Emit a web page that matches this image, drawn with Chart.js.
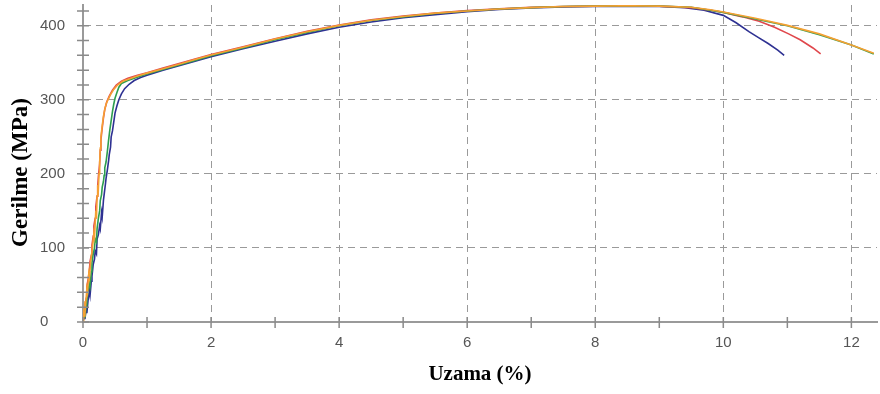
<!DOCTYPE html>
<html>
<head>
<meta charset="utf-8">
<script src="https://cdn.jsdelivr.net/npm/chart.js@4"></script>
<style>
  html, body { margin: 0; padding: 0; background: #fff; }
  #wrap { width: 880px; height: 394px; }
</style>
</head>
<body>
<div id="wrap"><canvas id="chart" width="880" height="394"></canvas></div>
<script>
// Strain (%) and stress (MPa), one pair of arrays per specimen
const blueStrain = [0, 0.02, 0.03, 0.05, 0.06, 0.08, 0.1, 0.11, 0.13, 0.14, 0.16, 0.18, 0.19, 0.21, 0.22, 0.24, 0.26, 0.27, 0.29, 0.3, 0.32, 0.33, 0.35, 0.36, 0.38, 0.4, 0.41, 0.43, 0.44, 0.46, 0.48, 0.5, 0.53, 0.56, 0.6, 0.65, 0.72, 0.8, 0.9, 1.0, 1.25, 1.5, 1.75, 2.0, 2.5, 3.0, 3.5, 4.0, 4.5, 5.0, 5.5, 6.0, 6.5, 7.0, 7.5, 8.0, 8.5, 9.0, 9.4, 9.7, 10.0, 10.2, 10.4, 10.55, 10.7, 10.85, 10.95];
const blueStress = [0, 10, 4, 18, 12, 30, 42, 36, 55, 62, 78, 85, 96, 92, 112, 118, 130, 126, 148, 142, 165, 172, 186, 194, 205, 218, 226, 236, 250, 258, 270, 282, 292, 300, 308, 315, 321, 326, 330, 333, 340, 346, 352, 358, 369, 379, 389, 398, 405, 411, 415, 419, 422, 424, 425.5, 426, 426.5, 426, 424.5, 421, 414, 404, 392, 384, 376, 367, 360];

const redStrain = [0, 0.02, 0.03, 0.05, 0.06, 0.08, 0.1, 0.11, 0.13, 0.14, 0.16, 0.17, 0.19, 0.2, 0.22, 0.23, 0.24, 0.26, 0.27, 0.28, 0.3, 0.32, 0.34, 0.37, 0.41, 0.46, 0.52, 0.6, 0.7, 0.85, 1.0, 1.25, 1.5, 1.75, 2.0, 2.5, 3.0, 3.5, 4.0, 4.5, 5.0, 5.5, 6.0, 6.5, 7.0, 7.5, 8.0, 8.5, 9.0, 9.5, 9.8, 10.0, 10.3, 10.56, 10.8, 11.02, 11.2, 11.4, 11.52];
const redStress = [0, 14, 22, 32, 48, 58, 70, 82, 90, 104, 116, 130, 140, 156, 170, 184, 196, 214, 232, 246, 262, 276, 287, 297, 305, 313, 320, 325, 329, 333, 336.5, 343, 349, 355, 361, 371.5, 382.5, 392.5, 401, 408, 413, 417, 420.5, 423, 425, 426, 426.5, 427, 426.5, 424.5, 421, 418, 412, 406, 398, 389, 381, 370, 362];

const greenStrain = [0, 0.02, 0.03, 0.05, 0.06, 0.08, 0.1, 0.11, 0.13, 0.14, 0.16, 0.18, 0.19, 0.21, 0.22, 0.24, 0.26, 0.27, 0.29, 0.3, 0.32, 0.33, 0.34, 0.36, 0.38, 0.4, 0.42, 0.44, 0.46, 0.48, 0.5, 0.53, 0.56, 0.6, 0.65, 0.7, 0.8, 0.9, 1.0, 1.25, 1.5, 1.75, 2.0, 2.5, 3.0, 3.5, 4.0, 4.5, 5.0, 5.5, 6.0, 6.5, 7.0, 7.5, 8.0, 8.5, 9.0, 9.5, 9.8, 10.0, 10.5, 11.0, 11.5, 12.0, 12.35];
const greenStress = [0, 12, 6, 22, 30, 42, 52, 48, 68, 80, 92, 100, 112, 108, 126, 140, 150, 164, 172, 182, 190, 198, 208, 216, 230, 246, 260, 272, 284, 294, 302, 310, 317, 322, 324, 326, 329, 332, 335, 341, 347, 353, 359.5, 370, 381, 391, 400, 407, 412, 416.5, 420, 422.5, 424.5, 426, 426.5, 427, 426.5, 425, 421, 418, 409, 400, 388, 374, 362];

const orangeStrain = [0, 0.01, 0.02, 0.03, 0.04, 0.06, 0.07, 0.09, 0.1, 0.12, 0.14, 0.15, 0.17, 0.18, 0.2, 0.21, 0.22, 0.23, 0.24, 0.25, 0.26, 0.27, 0.28, 0.3, 0.32, 0.34, 0.36, 0.39, 0.43, 0.48, 0.54, 0.62, 0.72, 0.85, 1.0, 1.25, 1.5, 1.75, 2.0, 2.5, 3.0, 3.5, 4.0, 4.5, 5.0, 5.5, 6.0, 6.5, 7.0, 7.5, 8.0, 8.5, 9.0, 9.5, 9.8, 10.0, 10.5, 11.0, 11.5, 12.0, 12.35];
const orangeStress = [0, 12, 8, 28, 22, 45, 40, 65, 60, 82, 95, 102, 120, 115, 150, 140, 170, 185, 180, 200, 215, 235, 250, 265, 278, 287, 294, 300, 307, 314, 320, 325, 328, 332, 336, 342, 348, 354.5, 360.5, 371, 382, 392, 400.5, 407.5, 412.5, 417, 420, 422.5, 424.5, 426, 426.5, 427, 426.5, 425, 421.5, 418.5, 410, 400.5, 389, 374, 363];

const seriesColors = ['#2e3192', '#e0474c', '#2e9e4f', '#f5a033'];
// lower order is drawn on top (orange over green over red over blue)
const seriesOrder = [3, 2, 1, 0];

// Axis ticks
const xMin = 0, xMax = 12.4, xStep = 1;
const yMin = 0, yMax = 428, yStep = 20;
const xTitle = 'Uzama (%)';
const yTitle = 'Gerilme (MPa)';

function toPoints(xs, ys) {
  return xs.map((x, i) => ({ x: x, y: ys[i] }));
}

// Short tick marks that cross the axis lines, plus the rotated y title
const axisExtras = {
  id: 'axisExtras',
  afterDraw(chart) {
    const ctx = chart.ctx;
    const xs = chart.scales.x, ys = chart.scales.y;
    const area = chart.chartArea;
    ctx.save();
    ctx.strokeStyle = '#8a8a8a';
    ctx.lineWidth = 1.5;
    ctx.beginPath();
    xs.ticks.forEach(t => {
      const px = xs.getPixelForValue(t.value);
      ctx.moveTo(px, area.bottom - 5);
      ctx.lineTo(px, area.bottom + 6);
    });
    ys.ticks.forEach(t => {
      const py = ys.getPixelForValue(t.value);
      ctx.moveTo(area.left - 6, py);
      ctx.lineTo(area.left + 6, py);
    });
    ctx.stroke();

    ctx.translate(21, (area.top + area.bottom) / 2 + 9);
    ctx.rotate(-Math.PI / 2);
    ctx.fillStyle = '#000';
    ctx.font = 'bold 23px "Liberation Serif", "Times New Roman", serif';
    ctx.textAlign = 'center';
    ctx.textBaseline = 'middle';
    ctx.fillText(yTitle, 0, 0);
    ctx.restore();
  }
};

const names = ['1', '2', '3', '4'];
const strains = [blueStrain, redStrain, greenStrain, orangeStrain];
const stresses = [blueStress, redStress, greenStress, orangeStress];

new Chart(document.getElementById('chart'), {
  type: 'line',
  data: {
    datasets: strains.map((xs, i) => ({
      label: names[i],
      data: toPoints(xs, stresses[i]),
      borderColor: seriesColors[i],
      order: seriesOrder[i],
      borderWidth: 1.6,
      pointRadius: 0,
      tension: 0,
      fill: false
    }))
  },
  options: {
    responsive: false,
    animation: false,
    layout: { padding: { top: 5, right: 3, bottom: 0, left: 40 } },
    plugins: { legend: { display: false }, tooltip: { enabled: false } },
    scales: {
      x: {
        type: 'linear',
        min: xMin,
        max: xMax,
        afterFit: (scale) => { scale.height = 72; scale.paddingLeft = 0; scale.paddingRight = 0; },
        ticks: {
          stepSize: xStep,
          autoSkip: false,
          maxRotation: 0,
          includeBounds: false,
          padding: 12,
          color: '#555',
          font: { family: 'Liberation Sans, Arial', size: 15 },
          callback: (v) => (v % 2 === 0 ? String(v) : '')
        },
        grid: {
          drawTicks: false,
          color: (c) => (c.tick && c.tick.value > 0 && c.tick.value % 2 === 0 ? '#9a9a9a' : 'transparent'),
          lineWidth: 1
        },
        border: { display: true, color: '#9a9a9a', width: 2, dash: [7, 5] },
        title: {
          display: true,
          text: xTitle,
          color: '#000',
          font: { family: 'Liberation Serif, Times New Roman', size: 21, weight: 'bold' },
          padding: { top: 0, bottom: 7 }
        }
      },
      y: {
        min: yMin,
        max: yMax,
        afterFit: (scale) => { scale.width = 43; scale.paddingTop = 0; scale.paddingBottom = 0; },
        ticks: {
          stepSize: yStep,
          autoSkip: false,
          includeBounds: false,
          padding: 17,
          crossAlign: 'far',
          color: '#555',
          font: { family: 'Liberation Sans, Arial', size: 15 },
          callback: (v) => (v % 100 === 0 ? String(v) : '')
        },
        grid: {
          drawTicks: false,
          color: (c) => (c.tick && c.tick.value > 0 && c.tick.value % 100 === 0 ? '#9a9a9a' : 'transparent'),
          lineWidth: 1
        },
        border: { display: true, color: '#9a9a9a', width: 2, dash: [7, 5] }
      }
    }
  },
  plugins: [axisExtras]
});
</script>
</body>
</html>
